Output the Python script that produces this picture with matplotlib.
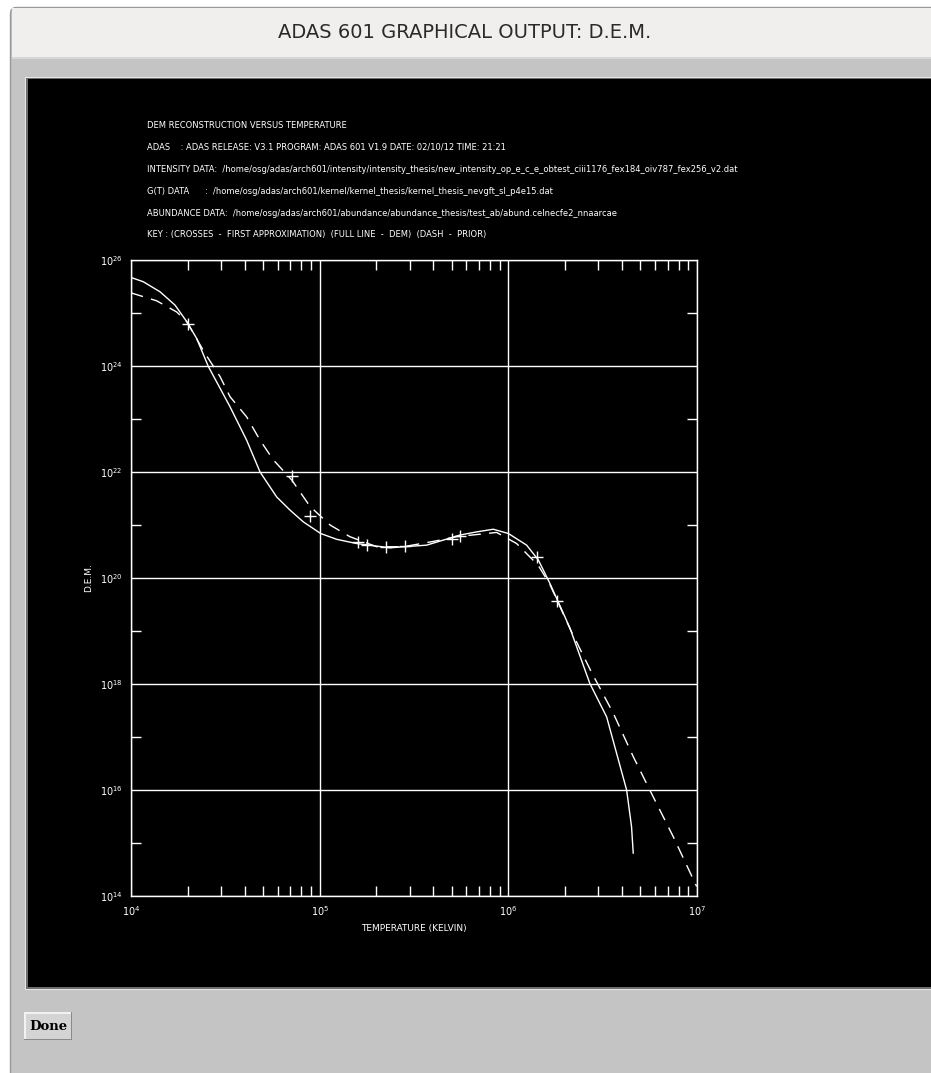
import numpy as np
import matplotlib
matplotlib.use("Agg")
from matplotlib import pyplot as plt
from matplotlib.patches import Rectangle, FancyBboxPatch
from matplotlib.ticker import FixedLocator, NullFormatter

# DEM solution (full line) as log10 values
dem_logt = [4.0, 4.065, 4.154, 4.233, 4.295, 4.348, 4.41, 4.525, 4.613, 4.684,
            4.772, 4.843, 4.913, 5.005, 5.09, 5.196, 5.373, 5.567, 5.743, 5.832,
            5.92, 6.0, 6.097, 6.159, 6.22, 6.326, 6.432, 6.521, 6.574, 6.627,
            6.653, 6.662]
dem_logd = [25.67, 25.59, 25.40, 25.15, 24.84, 24.52, 23.99, 23.23, 22.60, 22.0,
            21.53, 21.28, 21.06, 20.84, 20.73, 20.65, 20.57, 20.62, 20.81, 20.87,
            20.92, 20.84, 20.62, 20.34, 19.90, 19.06, 18.01, 17.38, 16.69, 16.0,
            15.31, 14.81]

# prior (dashed line)
prior_logt = [4.0, 4.136, 4.242, 4.295, 4.392, 4.472, 4.525, 4.613, 4.684, 4.754,
              4.852, 4.949, 5.055, 5.16, 5.302, 5.443, 5.602, 5.726, 5.938, 6.044,
              6.158, 6.22, 6.326, 6.441, 6.556, 6.662, 6.768, 6.874, 6.998]
prior_logd = [25.38, 25.23, 25.02, 24.84, 24.24, 23.80, 23.42, 23.04, 22.60, 22.23,
              21.85, 21.35, 21.0, 20.78, 20.59, 20.59, 20.69, 20.78, 20.86, 20.65,
              20.24, 19.88, 19.05, 18.22, 17.45, 16.63, 15.87, 15.12, 14.18]

# first approximation (crosses)
cross_logt = [4.304, 4.852, 4.949, 5.205, 5.252, 5.351, 5.454, 5.70, 5.743, 6.15, 6.256]
cross_logd = [24.79, 21.93, 21.17, 20.67, 20.62, 20.59, 20.60, 20.73, 20.79, 20.40, 19.57]

x_ticks = [1e4, 1e5, 1e6, 1e7]
x_labels = [r"$10^{4}$", r"$10^{5}$", r"$10^{6}$", r"$10^{7}$"]
y_exps = [14, 16, 18, 20, 22, 24, 26]

header = [
    "DEM RECONSTRUCTION VERSUS TEMPERATURE",
    "ADAS    : ADAS RELEASE: V3.1 PROGRAM: ADAS 601 V1.9 DATE: 02/10/12 TIME: 21:21",
    "INTENSITY DATA:  /home/osg/adas/arch601/intensity/intensity_thesis/new_intensity_op_e_c_e_obtest_ciii1176_fex184_oiv787_fex256_v2.dat",
    "G(T) DATA      :  /home/osg/adas/arch601/kernel/kernel_thesis/kernel_thesis_nevgft_sl_p4e15.dat",
    "ABUNDANCE DATA:  /home/osg/adas/arch601/abundance/abundance_thesis/test_ab/abund.celnecfe2_nnaarcae",
    "KEY : (CROSSES  -  FIRST APPROXIMATION)  (FULL LINE  -  DEM)  (DASH  -  PRIOR)",
]

W, H = 931, 1073
plt.rcParams['font.family'] = ['DejaVu Sans']
plt.rcParams['mathtext.fontset'] = 'dejavusans'
plt.rcParams['lines.scale_dashes'] = False

fig = plt.figure(figsize=(W / 100, H / 100), dpi=100)
fig.patch.set_facecolor('white')


# pixel box (x, y from top) -> figure rectangle, drawn under the axes
def px_rect(x0, y0, x1, y1, **kw):
    r = Rectangle((x0 / W, 1 - y1 / H), (x1 - x0) / W, (y1 - y0) / H,
                  transform=fig.transFigure, zorder=-10, **kw)
    fig.patches.append(r)
    return r


def px_text(x, y, s, **kw):
    return fig.text(x / W, 1 - y / H, s, **kw)


# window chrome
fig.patches.append(FancyBboxPatch((10.5 / W, -0.01), (W + 20) / W, (H - 7.5) / H + 0.01,
                                  boxstyle="round,pad=0,rounding_size=0.006",
                                  transform=fig.transFigure, facecolor='#c4c4c4',
                                  edgecolor='#9a9a9a', linewidth=1, zorder=-11))
px_rect(11.5, 8.5, W, 57, facecolor='#f0efee', edgecolor='none')
px_rect(11.5, 57, W, 58.5, facecolor='#d6d6d6', edgecolor='none')
px_text(465, 33, "ADAS 601 GRAPHICAL OUTPUT: D.E.M.", fontsize=14,
        color='#2a2a2a', ha='center', va='center')

# drawing area
px_rect(25, 77, W + 5, 990, facecolor='#e6e6e6', edgecolor='none')
px_rect(26, 78, W + 5, 989, facecolor='#6e6e6e', edgecolor='none')
px_rect(28, 79, W + 5, 987, facecolor='black', edgecolor='none')

# Done button
px_rect(24, 1012, 72, 1040, facecolor='#8a8a8a', edgecolor='none')
px_rect(24, 1012, 71, 1039, facecolor='#f2f2f2', edgecolor='none')
px_rect(25.5, 1013.5, 71, 1039, facecolor='#d4d4d4', edgecolor='none')
px_text(48, 1026, "Done", fontsize=9.5, family='DejaVu Serif', weight='bold',
        color='black', ha='center', va='center')

# header text
for i, line in enumerate(header):
    px_text(147, 125 + 22 * i, line, fontsize=6.0, color='white', va='center')

# plot
ax = fig.add_axes([131 / W, 1 - 896 / H, (697 - 131) / W, (896 - 260) / H])
ax.set_facecolor('black')
ax.set_xscale('log')
ax.set_yscale('log')
ax.set_xlim(1e4, 1e7)
ax.set_ylim(1e14, 1e26)

ax.plot(10 ** np.array(dem_logt), 10 ** np.array(dem_logd), color='white', lw=1)
ax.plot(10 ** np.array(prior_logt), 10 ** np.array(prior_logd), color='white', lw=1,
        dashes=(9, 6))
ax.plot(10 ** np.array(cross_logt), 10 ** np.array(cross_logd), linestyle='none',
        marker='+', ms=8.5, mew=1, color='white')

for s in ax.spines.values():
    s.set_color('white')
    s.set_linewidth(1)

ax.xaxis.set_major_locator(FixedLocator(x_ticks))
ax.set_xticklabels(x_labels)
x_minor = [m * 10 ** e for e in (4, 5, 6) for m in range(2, 10)]
ax.xaxis.set_minor_locator(FixedLocator(x_minor))
ax.xaxis.set_minor_formatter(NullFormatter())

ax.yaxis.set_major_locator(FixedLocator([10.0 ** e for e in y_exps]))
ax.set_yticklabels([r"$10^{%d}$" % e for e in y_exps])
ax.yaxis.set_minor_locator(FixedLocator([10.0 ** e for e in range(15, 26, 2)]))
ax.yaxis.set_minor_formatter(NullFormatter())

ax.grid(True, which='major', color='white', linewidth=1)
ax.tick_params(which='major', length=0, colors='white', labelsize=7, pad=6)
ax.tick_params(which='minor', length=7, width=1, color='white', direction='in',
               top=True, right=True)

ax.set_xlabel("TEMPERATURE (KELVIN)", color='white', fontsize=6.5, labelpad=4)
ax.set_ylabel("D.E.M.", color='white', fontsize=6.5, labelpad=5)

fig.savefig("out.png", dpi=100, facecolor=fig.get_facecolor())
